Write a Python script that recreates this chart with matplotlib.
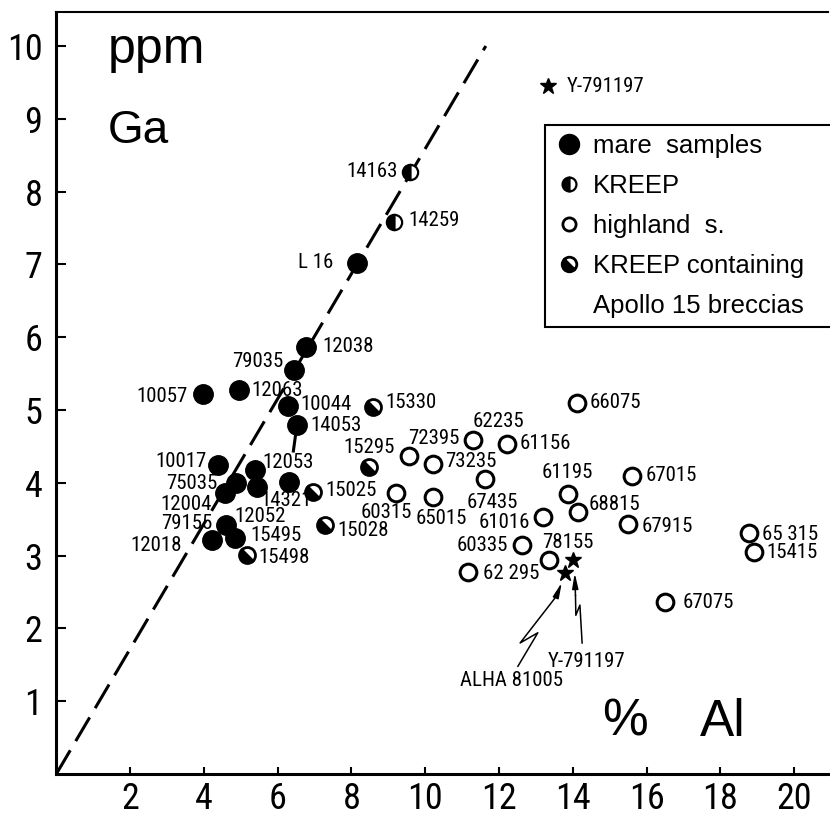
import matplotlib
matplotlib.use("Agg")
import matplotlib.pyplot as plt
from matplotlib.markers import MarkerStyle
from matplotlib.transforms import Affine2D
from matplotlib.lines import Line2D

# ---------------- data ----------------
mare_names = ["L 16", "12038", "79035", "10057", "12063", "10044", "14053", "10017",
              "12053", "75035", "12004", "12052", "14321", "79155", "12018", "15495"]
mare_x = [8.15, 6.77, 6.44, 3.98, 4.95, 6.28, 6.52, 4.38, 5.38, 4.87, 4.57, 5.44, 6.31, 4.60, 4.22, 4.84]
mare_y = [7.02, 5.87, 5.55, 5.22, 5.27, 5.05, 4.79, 4.24, 4.18, 4.00, 3.86, 3.94, 4.01, 3.42, 3.21, 3.24]

kreep_names = ["14163", "14259"]
kreep_x = [9.59, 9.15]
kreep_y = [8.27, 7.58]

breccia_names = ["15330", "15295", "15025", "15028", "15498"]
breccia_x = [8.58, 8.47, 6.96, 7.28, 5.17]
breccia_y = [5.04, 4.22, 3.87, 3.42, 3.01]

highland_names = ["66075", "62235", "61156", "72395", "73235", "67435", "60315", "65015",
                  "61195", "68815", "61016", "60335", "78155", "62 295", "67015", "67915",
                  "65 315", "15415", "67075"]
highland_x = [14.11, 11.29, 12.21, 9.56, 10.21, 11.62, 9.21, 10.21, 13.87, 14.14, 13.19,
              12.62, 13.35, 11.16, 15.60, 15.49, 18.77, 18.91, 16.50]
highland_y = [5.10, 4.59, 4.53, 4.37, 4.26, 4.05, 3.86, 3.80, 3.85, 3.60, 3.53,
              3.15, 2.94, 2.77, 4.09, 3.43, 3.31, 3.05, 2.36]

meteorite_names = ["Y-791197", "Y-791197", "ALHA 81005"]
meteorite_x = [13.33, 14.00, 13.78]
meteorite_y = [9.45, 2.94, 2.76]

trend_x = [0.0, 11.64]
trend_y = [0.0, 10.0]

x_ticks = [2, 4, 6, 8, 10, 12, 14, 16, 18, 20]
y_ticks = [1, 2, 3, 4, 5, 6, 7, 8, 9, 10]

# ---------------- label placement (pixels offset, alignment) ----------------
label_pos = {
    "L 16": (-24, 0, "right"), "12038": (16, 0, "left"), "79035": (-11, 8, "right"),
    "10057": (-16, -3, "right"), "12063": (12, 0, "left"), "10044": (12, 2, "left"),
    "14053": (13, 0, "left"), "10017": (-11, 4, "right"), "12053": (8, 7, "left"),
    "75035": (-19, -1, "right"), "12004": (-13, -12, "right"), "12052": (3, -29, "center"),
    "14321": (-3, -18, "center"), "79155": (-14, 2, "right"), "12018": (-30, -5, "right"),
    "15495": (15, 3, "left"),
    "14163": (-12, 0, "right"), "14259": (14, 2, "left"),
    "15330": (12, 5, "left"), "15295": (0, 19, "center"), "15025": (12, 2, "left"),
    "15028": (12, -5, "left"), "15498": (11, -3, "left"),
    "66075": (13, 0, "left"), "62235": (0, 18, "left"), "61156": (13, 1, "left"),
    "72395": (-1, 17, "left"), "73235": (12, 2, "left"), "67435": (7, -23, "center"),
    "60315": (-10, -20, "center"), "65015": (8, -21, "center"), "61195": (-1, 21, "center"),
    "68815": (11, 7, "left"), "61016": (-13, -5, "right"), "60335": (-14, -1, "right"),
    "78155": (19, 17, "center"), "62 295": (15, -1, "left"), "67015": (14, 1, "left"),
    "67915": (14, -2, "left"), "65 315": (13, -1, "left"), "15415": (12, -1, "left"),
    "67075": (17, 0, "left"),
}

NARROW = dict(family=["Roboto Condensed", "DejaVu Sans"])
SANS = ["Liberation Sans", "DejaVu Sans"]
LABEL_FS = 15
TICK_FS = 26

fig = plt.figure(figsize=(8.3, 8.14), dpi=100)
ax = fig.add_axes([56.3 / 830, 40 / 814, 771.2 / 830, 762 / 814])
ax.set_xlim(0, 20.9)
ax.set_ylim(0, 10.467)

# trend line and tie line
ax.plot(trend_x, trend_y, color="black", lw=2.2, ls=(0, (9, 3.5)), zorder=1)
i53, i21 = mare_names.index("14053"), mare_names.index("14321")
ax.plot([mare_x[i53], mare_x[i21]], [mare_y[i53], mare_y[i21]], color="black",
        lw=2.2, ls=(0, (9, 8)), zorder=1)

# markers
ax.plot(mare_x, mare_y, ls="none", marker="o", ms=14, mfc="black", mec="black", zorder=3)
ax.plot(kreep_x, kreep_y, ls="none", marker="o", ms=11, fillstyle="left", mfc="black",
        mfcalt="white", mec="black", mew=1.6, zorder=3)
brec_marker = MarkerStyle("o", fillstyle="bottom", transform=Affine2D().rotate_deg(-45))
ax.plot(breccia_x, breccia_y, ls="none", marker=brec_marker, ms=11.5, mfc="black",
        mfcalt="white", mec="black", mew=2, zorder=3)
ax.plot(highland_x, highland_y, ls="none", marker="o", ms=12, mfc="white", mec="black",
        mew=2.2, zorder=3)
ax.plot(meteorite_x, meteorite_y, ls="none", marker="*", ms=12, mfc="black", mec="black",
        zorder=3)

# point labels
def put_labels(names, xs, ys):
    for n, x, y in zip(names, xs, ys):
        if n not in label_pos:
            continue
        dx, dy, ha = label_pos[n]
        ax.annotate(n, (x, y), xytext=(dx, dy), textcoords="offset pixels",
                    ha=ha, va="center", fontsize=LABEL_FS, zorder=4, **NARROW)

put_labels(mare_names, mare_x, mare_y)
put_labels(kreep_names, kreep_x, kreep_y)
put_labels(breccia_names, breccia_x, breccia_y)
put_labels(highland_names, highland_x, highland_y)
ax.annotate(meteorite_names[0], (meteorite_x[0], meteorite_y[0]), xytext=(19, 0),
            textcoords="offset pixels", ha="left", va="center", fontsize=LABEL_FS,
            **NARROW)

# lightning arrows to the meteorites
alha_path_x = [12.51, 13.05, 12.57, 13.55]
alha_path_y = [1.48, 1.94, 1.80, 2.44]
y79_path_x = [14.25, 14.19, 14.08, 14.07]
y79_path_y = [1.80, 2.32, 2.18, 2.45]
ax.plot(alha_path_x, alha_path_y, color="black", lw=1.1)
ax.plot(y79_path_x, y79_path_y, color="black", lw=1.1)
ax.annotate("", xy=(13.70, 2.63), xytext=(alha_path_x[-1], alha_path_y[-1]),
            arrowprops=dict(arrowstyle="-|>,head_length=0.9,head_width=0.18",
                            color="black", lw=1.1, shrinkA=0, shrinkB=0))
ax.annotate("", xy=(14.05, 2.76), xytext=(y79_path_x[-1], y79_path_y[-1]),
            arrowprops=dict(arrowstyle="-|>,head_length=0.9,head_width=0.18",
                            color="black", lw=1.1, shrinkA=0, shrinkB=0))
ax.text(10.94, 1.29, meteorite_names[2], ha="left", va="center", fontsize=LABEL_FS,
        **NARROW)
ax.text(13.32, 1.54, meteorite_names[1], ha="left", va="center", fontsize=LABEL_FS,
        **NARROW)

# big axis titles
ax.text(0.067, 0.933, "ppm", transform=ax.transAxes, fontsize=36, family=SANS,
        va="baseline", ha="left")
ax.text(0.067, 0.828, "Ga", transform=ax.transAxes, fontsize=33, family=SANS,
        va="baseline", ha="left")
ax.text(0.708, 0.0499, "%", transform=ax.transAxes, fontsize=37, family=SANS,
        va="baseline", ha="left")
ax.text(0.835, 0.0499, "Al", transform=ax.transAxes, fontsize=37, family=SANS,
        va="baseline", ha="left")

# axes styling
ax.spines["right"].set_visible(False)
ax.spines["left"].set_linewidth(2.2)
ax.spines["bottom"].set_linewidth(2.2)
ax.spines["top"].set_linewidth(1.5)
ax.set_xticks(x_ticks)
ax.set_yticks(y_ticks)
ax.set_xticklabels([str(t) for t in x_ticks], fontsize=TICK_FS, **NARROW)
ax.set_yticklabels([str(t) for t in y_ticks], fontsize=TICK_FS, **NARROW)
ax.tick_params(axis="y", direction="in", length=7, width=1.5, pad=10)
ax.tick_params(axis="x", direction="in", length=5, width=1.5, pad=5)

# legend
handles = [
    Line2D([], [], ls="none", marker="o", ms=14.4, mfc="black", mec="black"),
    Line2D([], [], ls="none", marker="o", ms=10, fillstyle="left", mfc="black",
           mfcalt="white", mec="black", mew=1.6),
    Line2D([], [], ls="none", marker="o", ms=9.5, mfc="white", mec="black", mew=2),
    Line2D([], [], ls="none", marker=MarkerStyle("o", fillstyle="bottom",
           transform=Affine2D().rotate_deg(-45)), ms=10.5, mfc="black", mfcalt="white",
           mec="black", mew=2),
    Line2D([], [], ls="none"),
]
labels = ["mare  samples", "KREEP", "highland  s.", "KREEP containing", "Apollo 15 breccias"]
leg = fig.legend(handles, labels, loc="upper left", mode="expand",
                 bbox_to_anchor=(545 / 830, 1 - 325 / 814, 0.37, 200 / 814),
                 bbox_transform=fig.transFigure, borderaxespad=0, borderpad=0.35,
                 handlelength=1.2, handletextpad=0.3, labelspacing=0.62,
                 fancybox=False, framealpha=1, edgecolor="black",
                 prop={"family": SANS, "size": 18.5})
leg.get_frame().set_linewidth(1.5)

fig.savefig("out.png", dpi=100)
